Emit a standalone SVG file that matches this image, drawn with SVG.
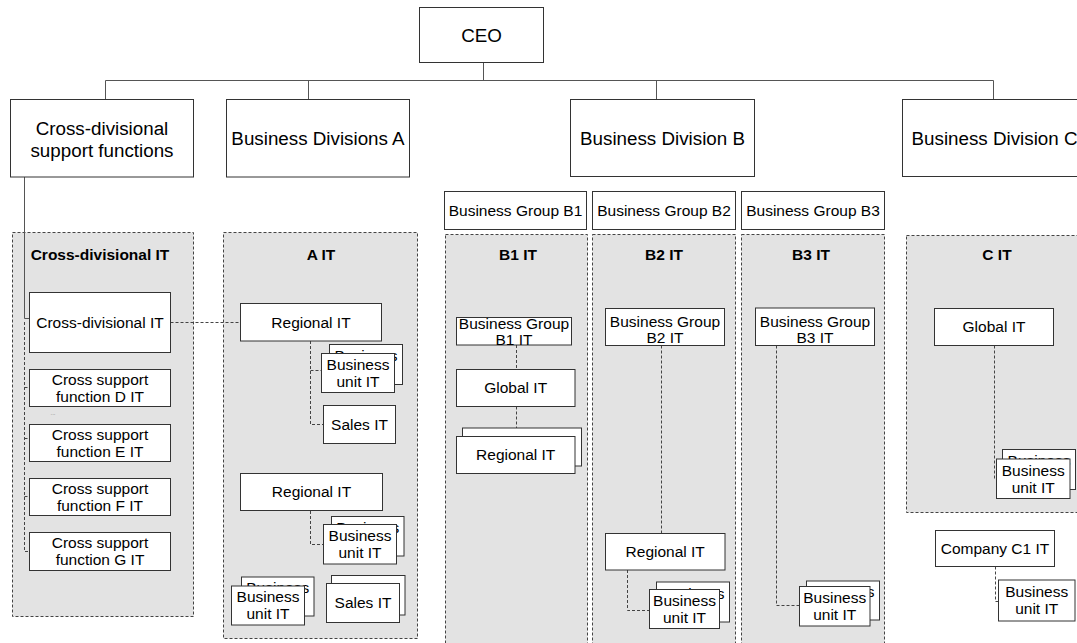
<svg xmlns="http://www.w3.org/2000/svg" width="1077" height="643" viewBox="0 0 1077 643">
<style>
.box{fill:#fff;stroke:#333;stroke-width:1}
.cont{fill:#e3e3e3;stroke:#444;stroke-width:1;stroke-dasharray:3 2}
text{font-family:"Liberation Sans",Arial,sans-serif;font-size:15.5px;text-anchor:middle;fill:#000}
.lg{font-size:18.8px}
.b{font-weight:bold}
.dots{font-size:6px;fill:#777}
.solid{stroke:#555;stroke-width:1;fill:none}
.dash{stroke:#444;stroke-width:1;fill:none;stroke-dasharray:3 2}
</style>
<rect width="1077" height="643" fill="#fff"/>
<!-- containers -->
<g id="cont-crossit"><rect class="cont" x="12.5" y="232.5" width="181" height="384"/><text class="b" x="100" y="260">Cross-divisional IT</text></g>
<g id="cont-ait"><rect class="cont" x="223.5" y="232.5" width="194" height="406"/><text class="b" x="321" y="260">A IT</text></g>
<g id="cont-b1it"><rect class="cont" x="445.5" y="234.5" width="142" height="420"/><text class="b" x="518" y="260">B1 IT</text></g>
<g id="cont-b2it"><rect class="cont" x="592.5" y="234.5" width="143" height="420"/><text class="b" x="664" y="260">B2 IT</text></g>
<g id="cont-b3it"><rect class="cont" x="741.5" y="234.5" width="143" height="420"/><text class="b" x="811" y="260">B3 IT</text></g>
<g id="cont-cit"><rect class="cont" x="906.5" y="235.5" width="190" height="277"/><text class="b" x="997" y="260">C IT</text></g>
<!-- connectors -->
<g id="connectors">
<path class="solid" d="M483.5 62.5V80.5M105.5 80.5H993.5M105.5 80.5V99.5M308.5 80.5V99.5M656.5 80.5V99.5M993.5 80.5V99.5"/>
<path class="solid" d="M24.5 177V318.5H29.5"/>
<path class="dash" d="M24.5 322V551.5H29.5M24.5 387.5H29.5M24.5 438.5H29.5M24.5 496.5H29.5"/>
<path class="dash" d="M170.5 322.5H240.5"/>
<path class="dash" d="M310.5 341V424.5H323.5M310.5 370.5H321.5"/>
<path class="dash" d="M310.5 511V544.5H323.5"/>
<path class="dash" d="M516.5 345V369.5M516.5 406.5V428"/>
<path class="dash" d="M661.5 345.5V533.5M627.5 570V610.5H649.5"/>
<path class="dash" d="M776.5 345.5V605.5H799.5"/>
<path class="dash" d="M994.5 345.5V478.5H996.5M995.5 566.5V601.5H998.5"/>
</g>
<!-- top level -->
<g id="ceo"><rect class="box" x="419.5" y="7.5" width="124" height="55"/><text class="lg" x="481.5" y="41.5">CEO</text></g>
<g id="cross-support"><rect class="box" x="10.5" y="99.5" width="183" height="77.5"/><text class="lg" x="102" y="135">Cross-divisional</text><text class="lg" x="102" y="156.5">support functions</text></g>
<g id="bda"><rect class="box" x="226.5" y="99.5" width="183" height="77.5"/><text class="lg" x="318" y="145">Business Divisions A</text></g>
<g id="bdb"><rect class="box" x="570.5" y="99.5" width="184" height="77"/><text class="lg" x="662.5" y="145">Business Division B</text></g>
<g id="bdc"><rect class="box" x="902.5" y="99.5" width="184" height="77"/><text class="lg" x="994.5" y="145">Business Division C</text></g>
<g id="bg-b1"><rect class="box" x="444.5" y="191.5" width="142" height="38"/><text x="515.5" y="215.5">Business Group B1</text></g>
<g id="bg-b2"><rect class="box" x="592.5" y="191.5" width="143" height="38"/><text x="664" y="215.5">Business Group B2</text></g>
<g id="bg-b3"><rect class="box" x="741.5" y="191.5" width="143" height="38"/><text x="813" y="215.5">Business Group B3</text></g>
<!-- cross-divisional IT -->
<g id="cd-it"><rect class="box" x="29.5" y="292.5" width="141" height="60"/><text x="100" y="328">Cross-divisional IT</text></g>
<g id="csf-d"><rect class="box" x="29.5" y="369.5" width="141" height="37"/><text x="100" y="384.9">Cross support</text><text x="100" y="401.9">function D IT</text></g>
<g id="csf-e"><rect class="box" x="29.5" y="424.5" width="141" height="37"/><text x="100" y="439.9">Cross support</text><text x="100" y="456.9">function E IT</text></g>
<g id="csf-f"><rect class="box" x="29.5" y="478.5" width="141" height="37"/><text x="100" y="493.9">Cross support</text><text x="100" y="510.9">function F IT</text></g>
<g id="csf-g"><rect class="box" x="29.5" y="532.5" width="141" height="38"/><text x="100" y="548.4">Cross support</text><text x="100" y="565.4">function G IT</text></g>
<g id="dots"><text class="dots" x="53" y="415">...</text><text class="dots" x="82" y="438">...</text></g>
<!-- A IT -->
<g id="a-reg1"><rect class="box" x="240.5" y="303.5" width="141" height="37.5"/><text x="311" y="327.5">Regional IT</text></g>
<g id="a-bu1"><rect class="box" x="329.5" y="344.5" width="73" height="40"/><text x="366" y="361.4">Business</text><rect class="box" x="321.5" y="353.5" width="73" height="39"/><text x="358" y="369.9">Business</text><text x="358" y="386.9">unit IT</text></g>
<g id="a-sales1"><rect class="box" x="323.5" y="405.5" width="72" height="38"/><text x="359.5" y="429.8">Sales IT</text></g>
<g id="a-reg2"><rect class="box" x="240.5" y="473.5" width="142" height="37"/><text x="311.5" y="497.4">Regional IT</text></g>
<g id="a-bu2"><rect class="box" x="331.5" y="516.5" width="72.5" height="39.5"/><text x="367.7" y="532.8">Business</text><rect class="box" x="323.5" y="524.5" width="73" height="39.5"/><text x="360" y="541.1">Business</text><text x="360" y="558.1">unit IT</text></g>
<g id="a-bu3"><rect class="box" x="241.5" y="577" width="72.5" height="39"/><text x="277.7" y="593.4">Business</text><rect class="box" x="231.5" y="586" width="73" height="39"/><text x="268" y="602.4">Business</text><text x="268" y="619.4">unit IT</text></g>
<g id="a-sales2"><rect class="box" x="331.5" y="575.5" width="73.5" height="39.5"/><rect class="box" x="326.5" y="583.5" width="73" height="39"/><text x="363" y="608.4">Sales IT</text></g>
<!-- B1 IT -->
<g id="b1-bg"><rect class="box" x="456.5" y="317.5" width="115" height="27.5"/><text x="514" y="329">Business Group</text><text x="514" y="345">B1 IT</text></g>
<g id="b1-global"><rect class="box" x="456.5" y="369.5" width="118.5" height="37"/><text x="515.7" y="393.4">Global IT</text></g>
<g id="b1-reg"><rect class="box" x="462.5" y="428" width="119" height="38"/><rect class="box" x="456.5" y="436.5" width="118.5" height="37"/><text x="515.7" y="460.4">Regional IT</text></g>
<!-- B2 IT -->
<g id="b2-bg"><rect class="box" x="605.5" y="308.5" width="119" height="37"/><text x="665" y="326.5">Business Group</text><text x="665" y="342.5">B2 IT</text></g>
<g id="b2-reg"><rect class="box" x="605.5" y="533.5" width="119.5" height="36.5"/><text x="665.2" y="557.2">Regional IT</text></g>
<g id="b2-bu"><rect class="box" x="656.5" y="582" width="73" height="40"/><text x="693" y="598.6">Business</text><rect class="box" x="649.5" y="589.5" width="70" height="39"/><text x="684.5" y="605.9">Business</text><text x="684.5" y="622.9">unit IT</text></g>
<!-- B3 IT -->
<g id="b3-bg"><rect class="box" x="755.5" y="308" width="119" height="37.5"/><text x="815" y="326.5">Business Group</text><text x="815" y="342.5">B3 IT</text></g>
<g id="b3-bu"><rect class="box" x="806.5" y="581" width="73" height="39"/><text x="843" y="597.4">Business</text><rect class="box" x="799.5" y="586.5" width="70.5" height="39.5"/><text x="834.7" y="603.1">Business</text><text x="834.7" y="620.1">unit IT</text></g>
<!-- C IT -->
<g id="c-global"><rect class="box" x="934.5" y="308.5" width="119" height="37"/><text x="994" y="332.4">Global IT</text></g>
<g id="c-bu"><rect class="box" x="1002.5" y="449.5" width="73" height="40"/><text x="1039" y="466.1">Business</text><rect class="box" x="996.5" y="459" width="73.5" height="39.5"/><text x="1033.2" y="475.6">Business</text><text x="1033.2" y="492.6">unit IT</text></g>
<g id="c1"><rect class="box" x="935.5" y="530.5" width="119" height="36"/><text x="995" y="553.9">Company C1 IT</text></g>
<g id="c1-bu"><rect class="box" x="998.5" y="580" width="76.5" height="41"/><text x="1036.7" y="597.4">Business</text><text x="1036.7" y="614.4">unit IT</text></g>
</svg>
